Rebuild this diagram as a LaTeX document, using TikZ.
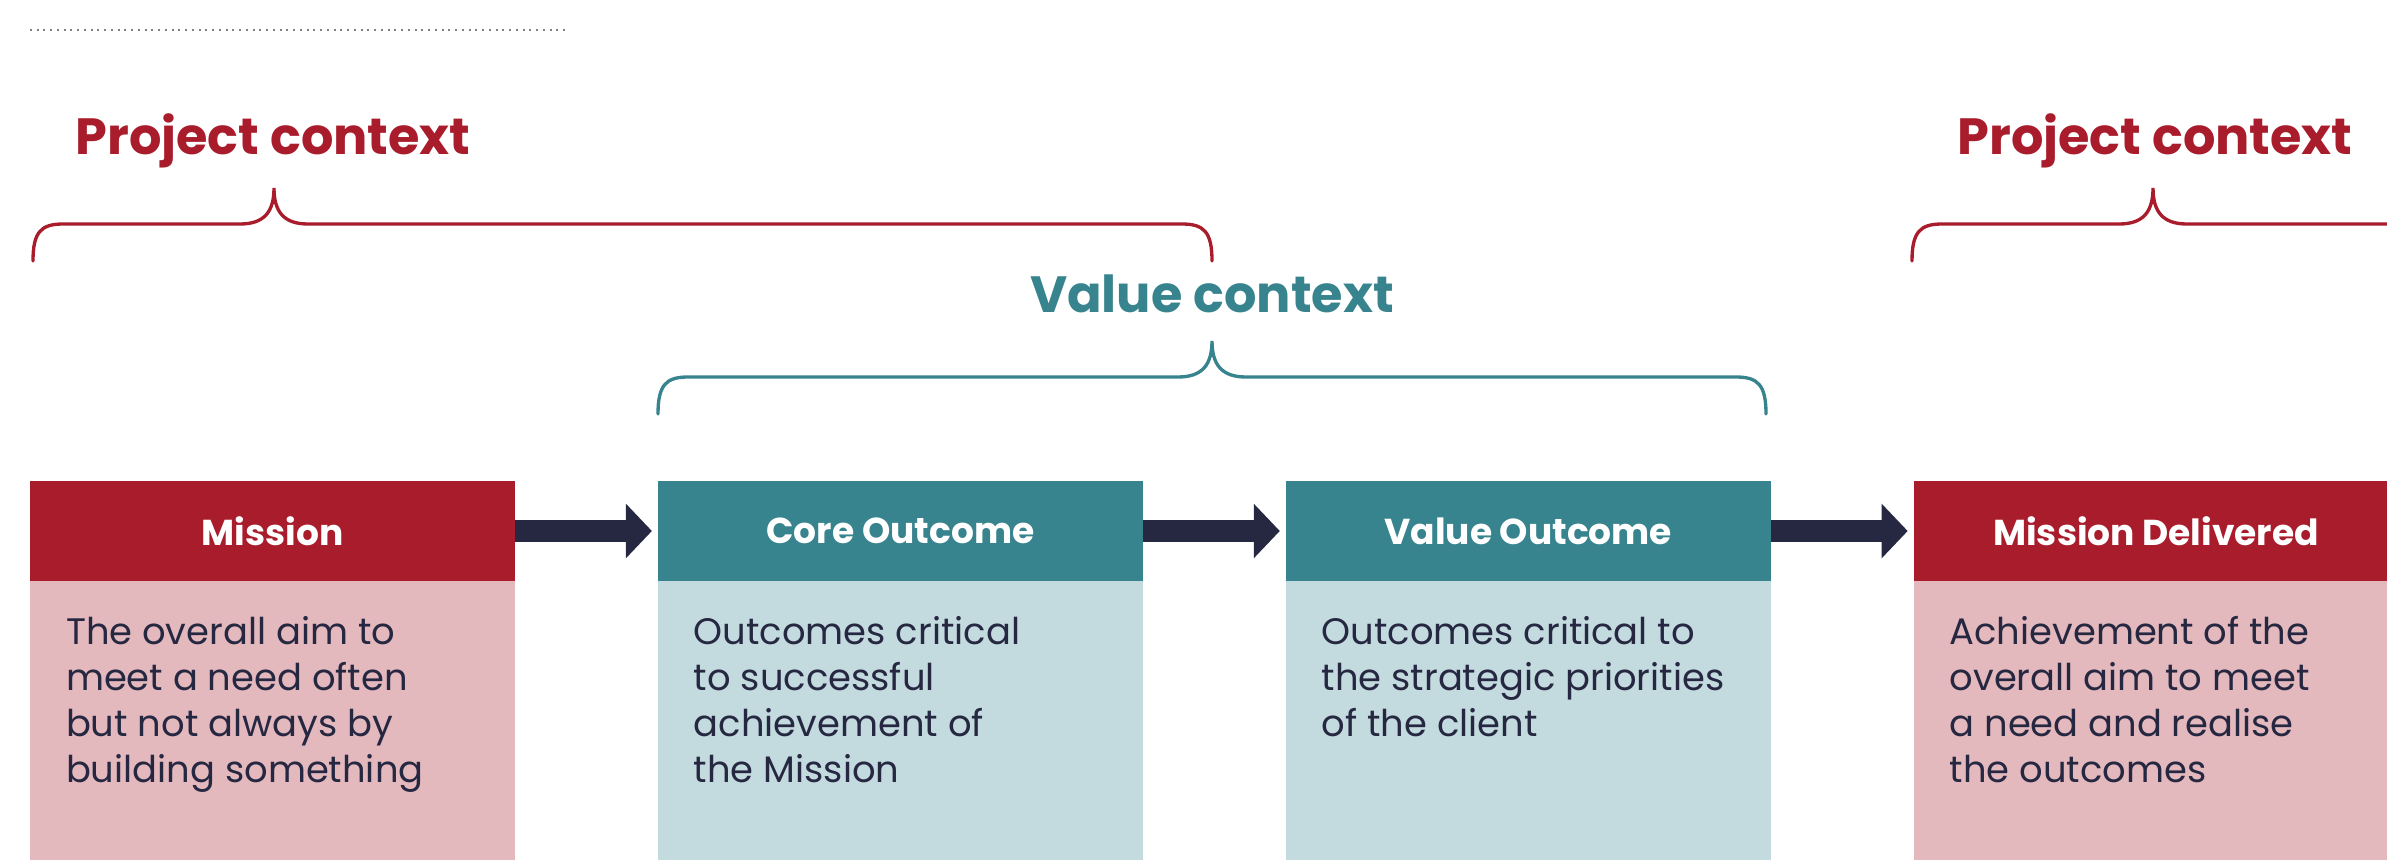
\documentclass[tikz,border=0pt]{standalone}
\usepackage{fontspec}
\setmainfont{Poppins}
\usetikzlibrary{positioning,arrows.meta}
\definecolor{projred}{HTML}{A91C2B}
\definecolor{projpink}{HTML}{E4B9BE}
\definecolor{valteal}{HTML}{37838E}
\definecolor{valpale}{HTML}{C3DADF}
\definecolor{inkblue}{HTML}{262842}
% #1 colour, #2 left end, #3 tip, #4 right end, #5 height of the flat part
\newcommand{\ctxbrace}[5]{%
	\draw[ctxline, #1] (#2,#5+37) .. controls (#2,#5+8) and (#2+8,#5) .. (#2+30,#5)
		-- (#3-34,#5) .. controls (#3-10,#5) and (#3,#5-12) .. (#3,#5-36)
		.. controls (#3,#5-12) and (#3+10,#5) .. (#3+34,#5)
		-- (#4-30,#5) .. controls (#4-8,#5) and (#4,#5+8) .. (#4,#5+37);}

\begin{document}
\begin{tikzpicture}[x=0.02cm,y=-0.02cm,inner sep=0in,outer sep=0in,
	head/.style={minimum width=9.7cm,minimum height=2cm,text=white,font=\fontsize{20.5}{25}\selectfont\bfseries},
	body/.style={minimum width=9.7cm,minimum height=5.6cm,below=0pt of #1},
	blurb/.style={align=left,text=inkblue,font=\fontsize{21}{26.2}\selectfont},
	ctxtitle/.style={font=\fontsize{29}{34}\selectfont\bfseries,anchor=base},
	ctxline/.style={line width=1.9pt,line cap=round},
	flow/.style={draw=inkblue,line width=0.44cm,shorten >=0.12cm,-{Triangle[length=0.52cm,width=1.06cm]}},
	dotline/.style={gray,line width=0.04cm,dash pattern=on 0.04cm off 0.095cm}]
	\useasboundingbox (0,0) rectangle (2387,859);
	\clip (0,0) rectangle (2387,859);
	
	\draw[dotline] (30,30) -- (566,30);
	
	% headers
	\node[head,fill=projred] (mission) at (272.5,531) {Mission};
	\node[head,fill=valteal,right=2.86cm of mission] (core) {Core Outcome};
	\node[head,fill=valteal,right=2.86cm of core] (value) {Value Outcome};
	\node[head,fill=projred,right=2.86cm of value] (delivered) {Mission Delivered};
	
	% bodies
	\node[body=mission,fill=projpink] (missionbody) {};
	\node[body=core,fill=valpale] (corebody) {};
	\node[body=value,fill=valpale] (valuebody) {};
	\node[body=delivered,fill=projpink] (deliveredbody) {};
	
	\node[blurb,anchor=north west] (missiontext) at ([xshift=0.72cm,yshift=-0.7cm]missionbody.north west)
		{The overall aim to\\meet a need often\\but not always by\\building something};
	\node[blurb,anchor=north west] (coretext) at ([xshift=0.72cm,yshift=-0.7cm]corebody.north west)
		{Outcomes critical\\to successful\\achievement of\\the Mission};
	\node[blurb,anchor=north west] (valuetext) at ([xshift=0.72cm,yshift=-0.7cm]valuebody.north west)
		{Outcomes critical to\\the strategic priorities\\of the client};
	\node[blurb,anchor=north west] (deliveredtext) at ([xshift=0.72cm,yshift=-0.7cm]deliveredbody.north west)
		{Achievement of the\\overall aim to meet\\a need and realise\\the outcomes};
	
	% arrows
	\draw[flow] (mission) -- (core);
	\draw[flow] (core) -- (value);
	\draw[flow] (value) -- (delivered);
	
	% contexts
	\ctxbrace{projred}{33}{274}{1212}{224}
	\ctxbrace{projred}{1912}{2153}{3092}{224}
	\ctxbrace{valteal}{658}{1212}{1766}{377}
	\node[ctxtitle,text=projred] (projleft) at (273,154) {Project context};
	\node[ctxtitle,text=projred] (projright) at (2155,154) {Project context};
	\node[ctxtitle,text=valteal] (valuectx) at (1212,312) {Value context};
\end{tikzpicture}
\end{document}
